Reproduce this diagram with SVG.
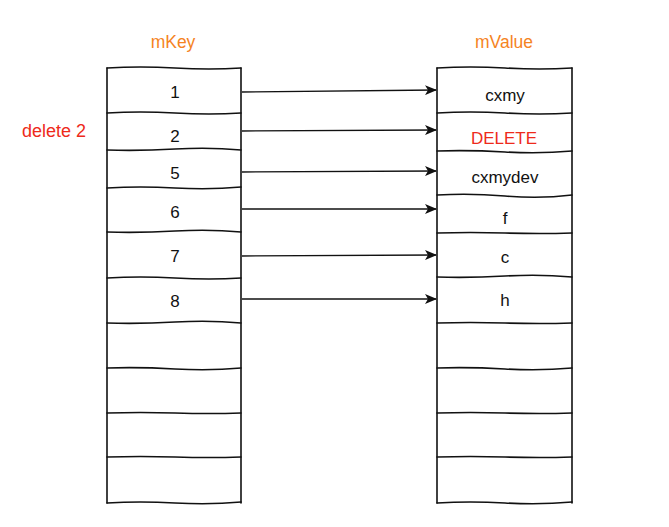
<svg xmlns="http://www.w3.org/2000/svg" width="669" height="527" viewBox="0 0 669 527">
<style>
.ln{fill:none;stroke:#111;stroke-width:1.6;stroke-linecap:round}
.cell{font-family:"Liberation Sans",Arial,sans-serif;font-size:17px;fill:#111;text-anchor:middle;dominant-baseline:central}
.hdr{font-family:"Liberation Sans",Arial,sans-serif;font-size:17.5px;fill:#F5841F;text-anchor:middle;dominant-baseline:central}
.red{fill:#EE2A1B}
.con{fill:none;stroke:#111;stroke-width:1.3;marker-end:url(#ah)}
</style>
<defs>
<marker id="ah" viewBox="0 0 12 10" refX="11" refY="5" markerWidth="12" markerHeight="10" markerUnits="userSpaceOnUse" orient="auto">
<path d="M0,0 L12,5 L0,10 L3,5 Z" fill="#111"/>
</marker>
</defs>
<rect width="669" height="527" fill="#fff"/>
<text class="hdr" x="173" y="42">mKey</text>
<text class="hdr" x="504" y="42">mValue</text>
<text class="hdr red" x="54" y="131" style="font-size:18px">delete 2</text>

<g id="mKey">
<path class="ln" d="M107,68 Q140,66 175,68 T241,68"/>
<path class="ln" d="M107,68 L107,503"/>
<path class="ln" d="M241,68 L241,503"/>
<path class="ln" d="M107,113 Q140,111 175,113 T241,113"/>
<path class="ln" d="M107,150 Q140,151 175,149 T241,150"/>
<path class="ln" d="M107,188 Q140,186 175,188 T241,187"/>
<path class="ln" d="M107,232 Q140,233 175,231 T241,232"/>
<path class="ln" d="M107,278 Q140,276 175,278 T241,278"/>
<path class="ln" d="M107,323 Q140,324 175,322 T241,323"/>
<path class="ln" d="M107,368 Q140,367 175,369 T241,368"/>
<path class="ln" d="M107,413 Q140,412 175,413 T241,413"/>
<path class="ln" d="M107,457 Q140,456 175,457 T241,457"/>
<path class="ln" d="M107,503 Q140,501 175,503 T241,502"/>
<text class="cell" x="175" y="92">1</text>
<text class="cell" x="175" y="136">2</text>
<text class="cell" x="175" y="173">5</text>
<text class="cell" x="175" y="212">6</text>
<text class="cell" x="175" y="256">7</text>
<text class="cell" x="175" y="301">8</text>
</g>

<g id="mValue">
<path class="ln" d="M437,68 Q470,66 505,68 T572,68"/>
<path class="ln" d="M437,68 L437,503"/>
<path class="ln" d="M572,68 L572,503"/>
<path class="ln" d="M437,113 Q470,111 505,113 T572,113"/>
<path class="ln" d="M437,151 Q470,150 505,152 T572,151"/>
<path class="ln" d="M437,195 Q470,193 505,196 T572,195"/>
<path class="ln" d="M437,233 Q470,232 505,233 T572,233"/>
<path class="ln" d="M437,277 Q470,278 505,276 T572,277"/>
<path class="ln" d="M437,323 Q470,322 505,323 T572,323"/>
<path class="ln" d="M437,368 Q470,367 505,369 T572,368"/>
<path class="ln" d="M437,413 Q470,412 505,413 T572,413"/>
<path class="ln" d="M437,457 Q470,456 505,457 T572,457"/>
<path class="ln" d="M437,503 Q470,501 505,503 T572,502"/>
<text class="cell" x="505" y="95">cxmy</text>
<text class="cell red" x="504" y="138">DELETE</text>
<text class="cell" x="505" y="177">cxmydev</text>
<text class="cell" x="505" y="218">f</text>
<text class="cell" x="505" y="257">c</text>
<text class="cell" x="505" y="300">h</text>
</g>

<g id="connectors">
<path class="con" d="M242,92 L436,90"/>
<path class="con" d="M242,131 L436,130"/>
<path class="con" d="M242,172 L436,171"/>
<path class="con" d="M242,209 L436,209"/>
<path class="con" d="M242,256 L436,255"/>
<path class="con" d="M242,299 L436,299"/>
</g>
</svg>
